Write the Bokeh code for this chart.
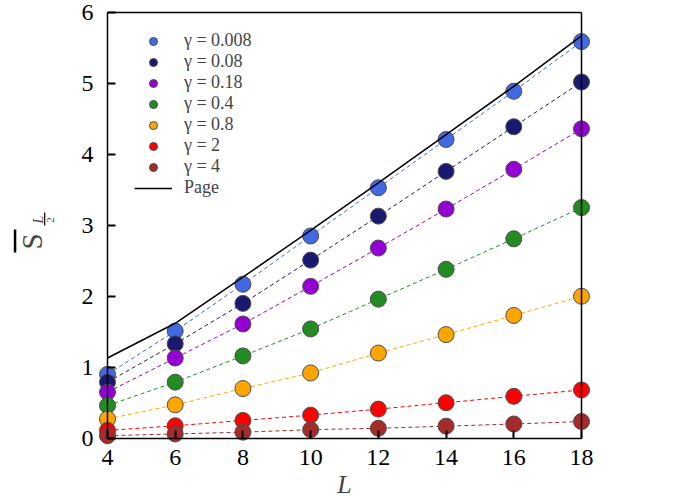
import math

from bokeh.embed import file_html
from bokeh.models import (BoxAnnotation, ColumnDataSource, FixedTicker, Label, Legend,
                          LegendItem, LinearAxis, Range1d)
from bokeh.plotting import figure
from bokeh.resources import INLINE

# Half-chain entanglement entropy versus system size
L = [4, 6, 8, 10, 12, 14, 16, 18]

gamma_labels = ["0.008", "0.08", "0.18", "0.4", "0.8", "2", "4"]
gamma_colors = ["#4169e1", "#191970", "#9400d3", "#228b22", "#ffa500", "#ff0000", "#a52a2a"]

s_g0008 = [0.90, 1.51, 2.17, 2.85, 3.53, 4.21, 4.89, 5.59]
s_g008 = [0.79, 1.33, 1.90, 2.51, 3.13, 3.76, 4.39, 5.02]
s_g018 = [0.65, 1.13, 1.61, 2.14, 2.68, 3.23, 3.79, 4.36]
s_g04 = [0.46, 0.79, 1.16, 1.54, 1.96, 2.38, 2.81, 3.25]
s_g08 = [0.27, 0.47, 0.70, 0.92, 1.20, 1.46, 1.73, 2.00]
s_g2 = [0.11, 0.175, 0.25, 0.325, 0.41, 0.50, 0.59, 0.68]
s_g4 = [0.035, 0.06, 0.085, 0.12, 0.14, 0.17, 0.20, 0.235]

page = [1.13, 1.62, 2.27, 2.93, 3.60, 4.28, 4.96, 5.67]

x_ticks = [4, 6, 8, 10, 12, 14, 16, 18]
y_ticks = [0, 1, 2, 3, 4, 5, 6]
x_lim = (4, 18)
y_lim = (0, 6)

series = [s_g0008, s_g008, s_g018, s_g04, s_g08, s_g2, s_g4]

SERIF = "Liberation Serif"
W, H = 678, 500
# pixel box of the axes inside the canvas
BOX_L, BOX_R, BOX_T, BOX_B = 107, 581, 12, 437.7

# the drawing frame fills the whole canvas, so markers sitting on the
# axes are not cut; the axes are pinned to the data limits instead
kx = (BOX_R - BOX_L) / (x_lim[1] - x_lim[0])
ky = (BOX_B - BOX_T) / (y_lim[1] - y_lim[0])
x_range = Range1d(x_lim[0] - BOX_L / kx, x_lim[1] + (W - BOX_R) / kx)
y_range = Range1d(y_lim[0] - (H - BOX_B) / ky, y_lim[1] + BOX_T / ky)

p = figure(
    width=W, height=H, x_range=x_range, y_range=y_range,
    output_backend="svg", toolbar_location=None,
    min_border=0,
)
p.background_fill_color = "white"
p.border_fill_color = "white"
p.outline_line_color = None
p.grid.visible = False

p.xaxis.fixed_location = y_lim[0]
p.xaxis.bounds = x_lim
p.yaxis.fixed_location = x_lim[0]
p.yaxis.bounds = y_lim

for ax, ticks in ((p.xaxis, x_ticks), (p.yaxis, y_ticks)):
    ax.ticker = FixedTicker(ticks=ticks)
    ax.major_tick_in = 8
    ax.major_tick_out = 0
    ax.minor_tick_line_color = None
    ax.major_tick_line_color = "black"
    ax.major_tick_line_width = 2
    ax.axis_line_color = "black"
    ax.axis_line_width = 1.5
    ax.major_label_text_font = SERIF
    ax.major_label_text_font_size = "24px"
    ax.major_label_text_color = "black"
p.xaxis.major_label_standoff = 12
p.yaxis.major_label_standoff = 14

# top and right edges of the box
for loc, side, bnds in ((x_lim[1], "right", y_lim), (y_lim[1], "above", x_lim)):
    edge = LinearAxis(fixed_location=loc, bounds=bnds, ticker=FixedTicker(ticks=[]),
                      axis_line_color="black", axis_line_width=1.5,
                      major_tick_line_color=None, minor_tick_line_color=None,
                      major_label_text_font_size="0px")
    p.add_layout(edge, side)

items = []
for lab, col, ys in zip(gamma_labels, gamma_colors, series):
    src = ColumnDataSource(dict(L=L, S=ys))
    p.line("L", "S", source=src, line_color=col, line_width=1, line_dash="4 3")
    pts = p.scatter("L", "S", source=src, size=16, fill_color=col,
                    line_color="#4d4d4d", line_width=1)
    key = p.line(x=[], y=[], line_color=col, line_width=1.5)
    items.append(LegendItem(label="γ = " + lab, renderers=[key, pts]))

page_src = ColumnDataSource(dict(L=L, S=page))
page_line = p.line("L", "S", source=page_src, line_color="black", line_width=1.5)
items.append(LegendItem(label="Page", renderers=[page_line]))

legend = Legend(
    items=items, location=(134, 302),
    glyph_width=38, glyph_height=20, label_height=20, spacing=0,
    label_standoff=12, padding=0, margin=0,
    label_text_font=SERIF, label_text_font_size="18px",
    border_line_color=None, background_fill_alpha=0,
)
p.add_layout(legend, "center")

# x title
p.add_layout(Label(x=(x_lim[0] + x_lim[1]) / 2, y=H - 484, x_units="data", y_units="screen",
                   text="L", text_font=SERIF, text_font_style="italic",
                   text_font_size="26px", text_align="center", text_baseline="middle"))

# y title: S with an overbar and a stacked L/2 subscript
p.add_layout(Label(x=31.5, y=H - 241, x_units="screen", y_units="screen", text="S",
                   angle=math.pi / 2, text_font=SERIF, text_font_size="29px",
                   text_align="center", text_baseline="middle"))
p.add_layout(BoxAnnotation(left=13.3, right=15.8, bottom=H - 252, top=H - 229,
                           left_units="screen", right_units="screen",
                           bottom_units="screen", top_units="screen",
                           fill_color="black", fill_alpha=1, line_color=None))
p.add_layout(Label(x=37.5, y=H - 219, x_units="screen", y_units="screen", text="L",
                   angle=math.pi / 2, text_font=SERIF, text_font_style="italic",
                   text_font_size="14px", text_align="center", text_baseline="middle"))
p.add_layout(BoxAnnotation(left=43.6, right=44.8, bottom=H - 225, top=H - 212,
                           left_units="screen", right_units="screen",
                           bottom_units="screen", top_units="screen",
                           fill_color="black", fill_alpha=1, line_color=None))
p.add_layout(Label(x=50, y=H - 219.5, x_units="screen", y_units="screen", text="2",
                   angle=math.pi / 2, text_font=SERIF, text_font_size="11px",
                   text_align="center", text_baseline="middle"))

open("out.html", "w").write(file_html(p, INLINE))
